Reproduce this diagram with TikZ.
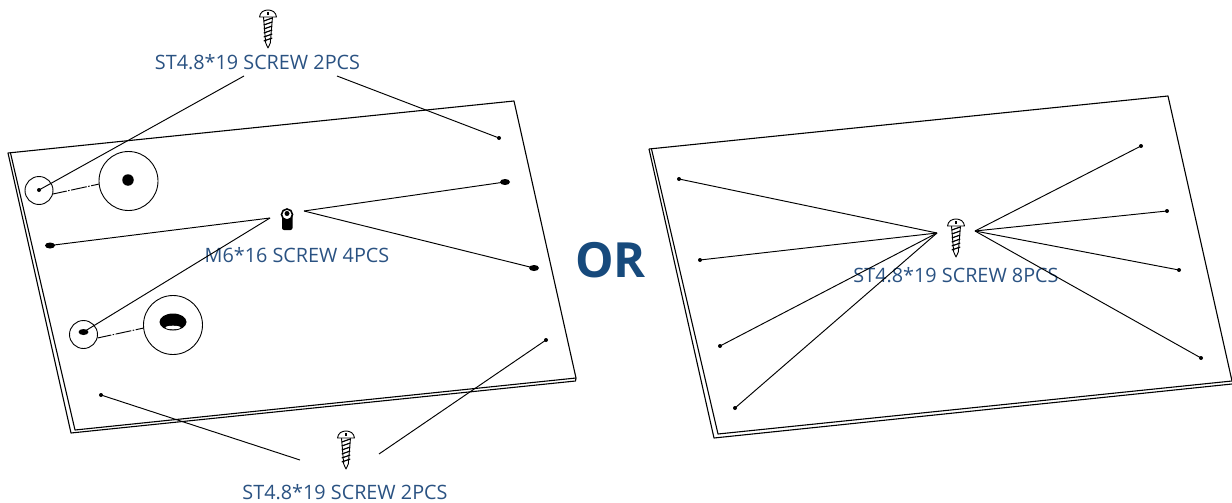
\documentclass[tikz,border=0pt]{standalone}
\usepackage{fontspec}
\setmainfont{Open Sans}
\definecolor{labelblue}{HTML}{2A5282}
\definecolor{orblue}{HTML}{174A7C}
\tikzset{
  plate/.style={line width=1.1pt,black,line join=round},
  lead/.style={line width=.95pt,black},
  hole/.style={circle,fill=black,inner sep=0pt,minimum size=4pt},
  slot/.style={ellipse,fill=black,inner sep=0pt,minimum width=10pt,minimum height=6pt},
  loupe/.style={circle,draw=black,line width=.9pt,inner sep=0pt,minimum size=28pt},
  loupebig/.style={circle,draw=black,line width=.9pt,inner sep=0pt,minimum size=59pt},
  lbl/.style={text=labelblue,font=\fontsize{19.8pt}{22pt}\selectfont,inner sep=0pt},
  pics/tapscrew/.style={code={
    \draw[line width=.9pt,fill=white,line join=round] (-4.5,7) -- (-2.3,33) -- (0,38) -- (2.3,33) -- (4.5,7);
    \foreach \yy in {9,13,17,21,25,29}
      \draw[line width=1.2pt] (-4.2,\yy+2) -- (4.2,\yy-1);
    \draw[line width=.9pt,fill=white,line join=round] (-8.5,7) .. controls (-8,2) and (-4,0) .. (0,0) .. controls (4,0) and (8,2) .. (8.5,7) -- cycle;
    \fill (-.8,2) rectangle (.8,5);
  }}
}
\usetikzlibrary{shapes.geometric}
\begin{document}
\begin{tikzpicture}[x=1pt,y=-1pt]
\useasboundingbox (0,0) rectangle (1232,503);
% left plate
\draw[plate] (8,153) -- (514,101) -- (576,378) -- (575.5,381) -- (71,433) -- cycle;
\draw[plate] (10.5,153) -- (75,430) -- (576,378);
% right plate
\draw[plate] (649,149) -- (1168,96) -- (1232,381);
\draw[plate] (649,149) -- (714,438) -- (1232,384);
\draw[plate] (651.5,149) -- (718,434) -- (1232,381);
% left labels
\node[lbl] (topl) at (257.5,62.5) {ST4.8*19 SCREW 2PCS};
\node[lbl] (midl) at (297,255.5) {M6*16 SCREW 4PCS};
\node[lbl] (botl) at (345,492) {ST4.8*19 SCREW 2PCS};
\node[lbl] (rightl) at (956,275.5) {ST4.8*19 SCREW 8PCS};
\node[text=orblue,font=\fontsize{48.5pt}{50pt}\selectfont\bfseries,inner sep=0pt] (orl) at (610.5,260) {OR};
% screws
\pic at (268,10) {tapscrew};
\pic at (346,431) {tapscrew};
\pic at (956,219) {tapscrew};
% M6 screw
\fill[rounded corners=2pt] (282,212) rectangle (292.5,230);
\node[circle,draw=black,fill=white,line width=1.6pt,inner sep=0pt,minimum size=11pt] (m6) at (287,214.5) {};
\node[circle,fill=black,inner sep=0pt,minimum size=5pt] at (287,213.5) {};
% anchors
\coordinate (ta) at (244,76);
\coordinate (tb) at (337,76);
\coordinate (ml) at (270,218);
\coordinate (mr) at (304,211);
\coordinate (ba) at (300,460);
\coordinate (bb) at (379,454);
\coordinate (ra) at (937,233);
\coordinate (rb) at (975,231);
% left holes
\node[loupe] (c1) at (39,190.5) {};
\node[loupebig] (c2) at (128.5,181) {};
\node[loupe] (c3) at (83.5,334.5) {};
\node[loupebig] (c4) at (173,325) {};
\node[hole] (h1) at (39,190) {};
\node[hole] (h2) at (499,138) {};
\node[slot] (s1) at (50,245.5) {};
\node[slot] (s2) at (505,182) {};
\node[slot] (s3) at (534,268) {};
\node[slot] (s4) at (83.5,332) {};
\node[hole] (h3) at (101,395) {};
\node[hole] (h4) at (546,340) {};
\node[circle,fill=black,inner sep=0pt,minimum size=11.5pt] (big1) at (128,180) {};
\node[ellipse,fill=black,inner sep=0pt,minimum width=27pt,minimum height=17pt] (big2) at (173,322) {};
\fill[white] (173,327.5) ellipse (7.5 and 1.8);
\draw[lead] (ta) -- (h1.center);
\draw[lead] (tb) -- (h2.center);
\draw[lead] (ml) -- (s1.center);
\draw[lead] (mr) -- (s2.center);
\draw[lead] (mr) -- (s3.center);
\draw[lead] (ml) -- (s4.center);
\draw[lead] (ba) -- (h3.center);
\draw[lead] (bb) -- (h4.center);
\draw[lead,dash pattern=on 14pt off 1.5pt on 1.5pt off 1.5pt on 16pt off 1.5pt on 1.5pt off 1.5pt on 14pt] (c1.-14) -- (c2.186);
\draw[lead,dash pattern=on 14pt off 1.5pt on 1.5pt off 1.5pt on 16pt off 1.5pt on 1.5pt off 1.5pt on 14pt] (c3.-14) -- (c4.186);
% right holes
\node[hole] (r1) at (679,179) {};
\node[hole] (r2) at (700,260) {};
\node[hole] (r3) at (720,346) {};
\node[hole] (r4) at (735,408) {};
\node[hole] (r5) at (1141,146) {};
\node[hole] (r6) at (1167,211) {};
\node[hole] (r7) at (1179,270) {};
\node[hole] (r8) at (1201,358) {};
\foreach \t in {r1,r2,r3,r4} \draw[lead] (ra) -- (\t.center);
\foreach \t in {r5,r6,r7,r8} \draw[lead] (rb) -- (\t.center);
\end{tikzpicture}
\end{document}
